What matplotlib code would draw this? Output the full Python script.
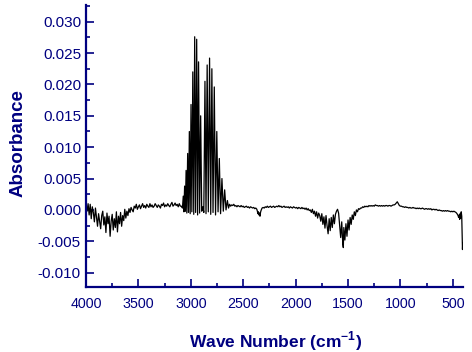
import numpy as np
import matplotlib
matplotlib.use('Agg')
import matplotlib.pyplot as plt
from matplotlib.ticker import MultipleLocator, FormatStrFormatter

# ---------------- data (absorbance values in units of 1e-3) ----------------
# 4000 -> 3600 cm-1, every 10 cm-1
seg_a_start, seg_a_step = 4000, 10
seg_a_vals = [0.8, -0.2, 1.0, -0.8, 0.9, -1.4, 0.5, -0.4, -1.9, 0.3,
              -1.2, -2.6, -0.6, -1.8, -3.0, -0.9, -0.2, -2.4, -1.1, -3.6,
              -0.5, -2.2, -1.0, -4.2, -1.8, -0.7, -3.2, -1.4, -2.8, -0.3,
              -3.5, -1.0, -2.2, -0.4, -2.6, -0.9, -1.7, 0.1, -1.3, -0.2,
              -0.9]
# 3590 -> 3100 cm-1, every 10 cm-1
seg_b_start, seg_b_step = 3590, 10
seg_b_vals = [0.2, -0.4, 0.4, 0.0, -0.3, 0.6, 0.3, 0.9, 0.1, 0.5,
              0.8, 0.2, 0.6, 1.0, 0.4, 0.7, 0.3, 0.9, 0.6, 0.4,
              1.0, 0.5, 0.8, 0.4, 0.6, 1.0, 0.7, 0.4, 0.8, 0.6,
              0.3, 0.9, 0.7, 1.1, 0.5, 0.8, 0.6, 1.0, 0.7, 0.5,
              0.9, 1.2, 0.6, 0.8, 1.1, 0.7, 0.9, 0.5, 1.0, 0.6]
# rotational lines (peaks and the minima between them)
lines_wn = [3090, 3080, 3072, 3066, 3059, 3052, 3045, 3038, 3030, 3022,
            3014, 3006, 2998, 2990, 2981, 2972, 2963, 2954, 2944, 2935,
            2926, 2916, 2906, 2896, 2886, 2876, 2865, 2855, 2844, 2833,
            2821, 2810, 2799, 2788, 2776, 2764, 2752, 2740, 2728, 2716,
            2703, 2690, 2677, 2664, 2651, 2640]
lines_vals = [0.6, 0.3, 2.2, -0.3, 3.8, -0.2, 6.3, -0.5, 9.0, -0.4,
              12.5, -0.6, 16.8, -0.3, 22.0, -0.7, 27.6, -0.4, 27.2, -0.8,
              23.6, -0.5, 15.0, -0.2, 0.5, -0.4, 20.5, -0.6, 23.1, -0.3,
              24.2, -0.7, 22.5, -0.4, 19.6, -0.8, 12.5, -0.3, 8.2, -0.6,
              5.0, -0.2, 3.2, 0.0, 1.5, 0.3]
# 2630 -> 2370 cm-1, every 10 cm-1
seg_d1_start, seg_d1_step = 2630, 10
seg_d1_vals = [0.9, 0.6, 0.8, 0.7, 0.9, 0.6, 0.7, 0.5, 0.7, 0.6,
               0.5, 0.7, 0.5, 0.6, 0.4, 0.5, 0.6, 0.4, 0.5, 0.3,
               0.5, 0.4, 0.3, 0.4, 0.2, 0.3, 0.1]
# 2365 -> 2320 cm-1, every 5 cm-1
seg_d2_start, seg_d2_step = 2365, 5
seg_d2_vals = [-0.2, -0.6, -0.3, -0.8, -0.5, -1.0, -0.4, -0.1, 0.1, 0.3]
# 2310 -> 1870 cm-1, every 10 cm-1
seg_d3_start, seg_d3_step = 2310, 10
seg_d3_vals = [0.4, 0.3, 0.5, 0.4, 0.6, 0.4, 0.5, 0.6, 0.4, 0.5,
               0.6, 0.4, 0.5, 0.6, 0.5, 0.7, 0.5, 0.6, 0.4, 0.5,
               0.6, 0.4, 0.5, 0.4, 0.5, 0.3, 0.5, 0.4, 0.3, 0.5,
               0.4, 0.3, 0.4, 0.2, 0.4, 0.3, 0.2, 0.4, 0.2, 0.3,
               0.1, 0.3, 0.0, 0.2, -0.1]
# 1860 -> 1380 cm-1 (noisy absorption region)
seg_d4_wn = [1860, 1850, 1840, 1830, 1820, 1810, 1800, 1790, 1780, 1770,
             1760, 1750, 1740, 1730, 1720, 1710, 1700, 1690, 1680, 1670,
             1660, 1650, 1640, 1630, 1620, 1610, 1600, 1590, 1580, 1570,
             1560, 1550, 1545, 1540, 1530, 1520, 1510, 1500, 1490, 1480,
             1470, 1460, 1450, 1440, 1430, 1420, 1410, 1400, 1390, 1380]
seg_d4_vals = [0.0, -0.4, 0.1, -0.6, -0.2, -1.0, -0.3, -1.3, -0.5, -0.9,
               -1.8, -0.6, -2.3, -1.1, -2.9, -0.9, -2.5, -3.8, -1.4, -3.3,
               -1.2, -2.8, -0.8, -2.2, -0.7, -0.2, 0.1, -0.5, -2.4, -4.4,
               -1.9, -5.4, -6.0, -2.8, -4.8, -2.2, -4.2, -1.6, -3.2, -1.2,
               -2.3, -0.8, -1.5, -0.3, -0.9, 0.0, -0.3, 0.2, 0.1, 0.3]
# 1370 -> 510 cm-1, every 10 cm-1
seg_d5_start, seg_d5_step = 1370, 10
seg_d5_vals = [0.3, 0.5, 0.4, 0.6, 0.5, 0.6, 0.5, 0.7, 0.6, 0.7,
               0.6, 0.7, 0.6, 0.8, 0.7, 0.7, 0.6, 0.7, 0.6, 0.7,
               0.6, 0.7, 0.6, 0.7, 0.7, 0.6, 0.7, 0.7, 0.6, 0.7,
               0.8, 0.8, 0.9, 1.1, 1.3, 1.0, 0.7, 0.6, 0.6, 0.5,
               0.5, 0.4, 0.5, 0.4, 0.4, 0.3, 0.4, 0.3, 0.3, 0.4,
               0.3, 0.3, 0.2, 0.3, 0.2, 0.3, 0.2, 0.2, 0.3, 0.2,
               0.1, 0.2, 0.2, 0.1, 0.2, 0.1, 0.2, 0.0, 0.1, 0.1,
               0.0, 0.1, 0.0, -0.1, 0.0, -0.1, -0.1, -0.2, -0.1, -0.2,
               -0.1, -0.2, -0.1, -0.2, -0.2, -0.3, -0.2]
tail_wn = [500, 490, 480, 470, 460, 450, 445, 440, 435, 430, 425, 420, 415,
           412, 408, 405, 403]
tail_vals = [-0.3, -0.2, -0.3, -0.4, -0.6, -0.9, -1.2, -0.8, -1.5, -0.6,
             -1.3, -0.3, -1.0, -3.5, -6.3, -5.2, -6.3]

x_ticks = [4000, 3500, 3000, 2500, 2000, 1500, 1000, 500]
y_ticks = [-0.010, -0.005, 0.000, 0.005, 0.010, 0.015, 0.020, 0.025, 0.030]


def seg(start, step, vals):
    return start - step * np.arange(len(vals)), np.asarray(vals, float)


parts = [seg(seg_a_start, seg_a_step, seg_a_vals),
         seg(seg_b_start, seg_b_step, seg_b_vals),
         (np.asarray(lines_wn, float), np.asarray(lines_vals, float)),
         seg(seg_d1_start, seg_d1_step, seg_d1_vals),
         seg(seg_d2_start, seg_d2_step, seg_d2_vals),
         seg(seg_d3_start, seg_d3_step, seg_d3_vals),
         (np.asarray(seg_d4_wn, float), np.asarray(seg_d4_vals, float)),
         seg(seg_d5_start, seg_d5_step, seg_d5_vals),
         (np.asarray(tail_wn, float), np.asarray(tail_vals, float))]
wavenumber = np.concatenate([p[0] for p in parts])
absorbance = np.concatenate([p[1] for p in parts]) * 1e-3

# ---------------- style ----------------
navy = '#000080'
plt.rcParams['font.family'] = ['Liberation Sans', 'DejaVu Sans']
plt.rcParams['axes.unicode_minus'] = False
plt.rcParams['mathtext.fontset'] = 'custom'
plt.rcParams['mathtext.rm'] = 'Liberation Sans'
plt.rcParams['mathtext.bf'] = 'Liberation Sans:bold'

fig = plt.figure(figsize=(4.72, 3.52), dpi=100)
ax = fig.add_axes([86 / 472, 1 - 287.3 / 352, 377 / 472, 282.3 / 352])

ax.plot(wavenumber, absorbance, color='black', lw=0.9)

ax.set_xlim(4000, 403)
ax.set_ylim(-0.01233, 0.03266)

for s in ['top', 'right']:
    ax.spines[s].set_visible(False)
for s in ['left', 'bottom']:
    ax.spines[s].set_color(navy)
    ax.spines[s].set_linewidth(1.6)

ax.set_xticks(x_ticks)
ax.set_xticklabels([str(v) for v in x_ticks])
ax.set_yticks(y_ticks)
ax.yaxis.set_major_formatter(FormatStrFormatter('%.3f'))
ax.xaxis.set_minor_locator(MultipleLocator(250))
ax.yaxis.set_minor_locator(MultipleLocator(0.0025))

ax.tick_params(axis='both', which='both', direction='in', color=navy,
               labelcolor=navy, width=1.2)
ax.tick_params(axis='both', which='major', length=5.5)
ax.tick_params(axis='both', which='minor', length=3.2)
ax.tick_params(axis='y', labelsize=11, pad=3.6)
ax.tick_params(axis='x', labelsize=10.3, pad=7)

ax.set_ylabel('Absorbance', fontsize=13.5, fontweight='bold', color=navy)
ax.yaxis.label.set_va('center')
ax.yaxis.set_label_coords(-0.18, 0.51)
ax.set_xlabel('Wave Number (cm$^{\\mathbf{-1}}$)', fontsize=12.5,
              fontweight='bold', color=navy)
ax.xaxis.label.set_va('center')
ax.xaxis.set_label_coords(0.504, -0.19)

fig.savefig('out.png', dpi=100)
